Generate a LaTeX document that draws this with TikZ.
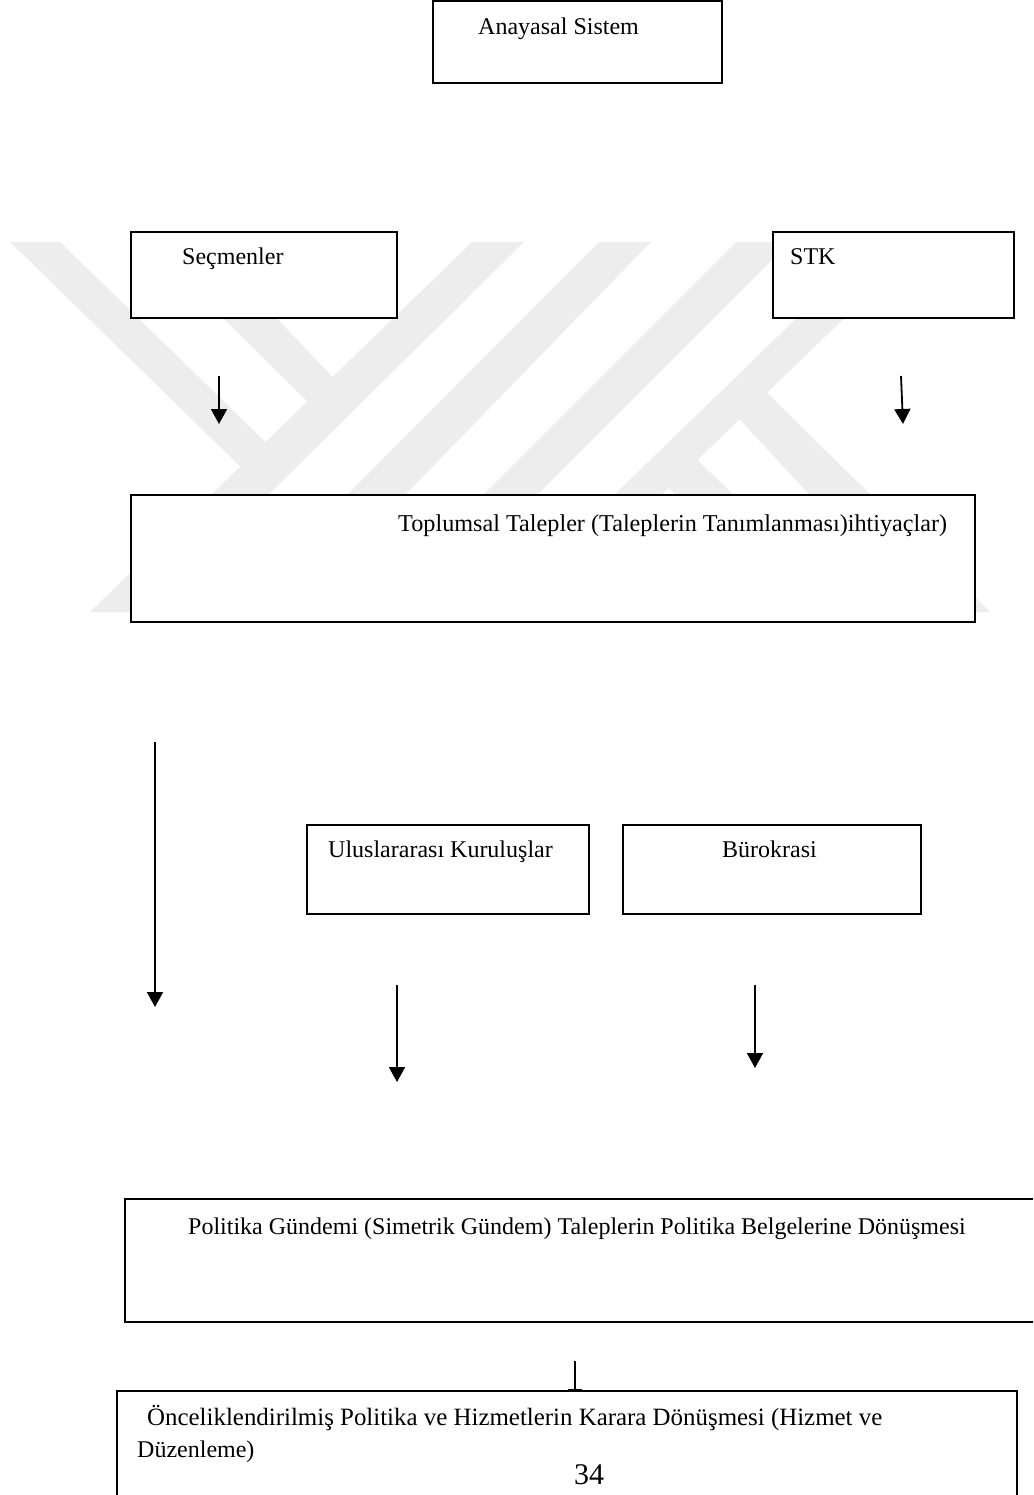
\documentclass[tikz,border=0pt]{standalone}
\usepackage{fontspec}
\setmainfont{Liberation Serif}
\usetikzlibrary{arrows.meta}
\definecolor{markgray}{HTML}{EDEDED}
\tikzset{
  boxnode/.style={draw=black,fill=white,line width=1.8pt,anchor=north west,inner sep=0pt,outer sep=0pt},
  boxtext/.style={anchor=base west,inner sep=0pt,font=\fontsize{24}{29}\selectfont},
  flowarrow/.style={line width=1.8pt,-{Triangle[length=15pt,width=16pt]}},
  markstrip/.style={fill=markgray,draw=none}
}
\begin{document}
\begin{tikzpicture}[x=1pt,y=-1pt]
\useasboundingbox (0,0) rectangle (1033,1495);
\clip (0,0) rectangle (1033,1495);
% background mark
\fill[markstrip](10,242)--(60,242)--(280,456)--(250,476)--cycle;
\fill[markstrip](472,242)--(524,242)--(150,612)--(90,612)--cycle;
\fill[markstrip](146,242)--(204,242)--(345,390)--(320,414)--cycle;
\fill[markstrip](599,242)--(651,242)--(368,533)--(309,533)--cycle;
\fill[markstrip](736,242)--(790,242)--(499,533)--(445,533)--cycle;
\fill[markstrip](875,242)--(923,242)--(622,533)--(575,533)--cycle;
\fill[markstrip](757,383)--(990,612)--(918,612)--(731,410)--cycle;
\fill[markstrip](687,450)--(773,533)--(717,533)--(658,478)--cycle;
% boxes
\node[boxnode,minimum width=289pt,minimum height=82pt](anayasa) at (433,1){};
\node[boxnode,minimum width=266pt,minimum height=86pt](secmen) at (131,232){};
\node[boxnode,minimum width=241pt,minimum height=86pt](stk) at (773,232){};
\node[boxnode,minimum width=844pt,minimum height=127pt](talep) at (131,495){};
\node[boxnode,minimum width=282pt,minimum height=89pt](kurulus) at (307,825){};
\node[boxnode,minimum width=298pt,minimum height=89pt](buro) at (623,825){};
\node[boxnode,minimum width=930pt,minimum height=123pt](gundem) at (125,1199){};
\node[boxnode,minimum width=900pt,minimum height=130pt](karar) at (117,1391){};
% texts
\node[boxtext](anayasatext) at (478,35){Anayasal Sistem};
\node[boxtext](secmentext) at (182,265){Seçmenler};
\node[boxtext](stktext) at (790,265){STK};
\node[boxtext,font=\fontsize{24.2}{29}\selectfont](taleptext) at (398,531){Toplumsal Talepler (Taleplerin Tanımlanması)ihtiyaçlar)};
\node[boxtext](kurulustext) at (328,857){Uluslararası Kuruluşlar};
\node[boxtext](burotext) at (722,857){Bürokrasi};
\node[boxtext](gundemtext) at (188,1234){Politika Gündemi (Simetrik Gündem) Taleplerin Politika Belgelerine Dönüşmesi};
\node[boxtext,font=\fontsize{24.9}{30}\selectfont](karartext) at (147,1425){Önceliklendirilmiş Politika ve Hizmetlerin Karara Dönüşmesi (Hizmet ve};
\node[boxtext](karartextb) at (137,1457){Düzenleme)};
\node[boxtext,font=\fontsize{30}{36}\selectfont](sayfa) at (574,1484){34};
% arrows
\coordinate(secmenout) at (219,376);
\coordinate(secmenin) at (219,424);
\coordinate(stkout) at (901,376);
\coordinate(stkin) at (903,424);
\coordinate(talepout) at (155,742);
\coordinate(talepin) at (155,1007);
\coordinate(kurulusout) at (397,985);
\coordinate(kurulusin) at (397,1082);
\coordinate(buroout) at (755,985);
\coordinate(buroin) at (755,1068);
\coordinate(gundemout) at (575,1361);
\coordinate(gundemin) at (575,1390);
\draw[flowarrow](secmenout)--(secmenin);
\draw[flowarrow](stkout)--(stkin);
\draw[flowarrow](talepout)--(talepin);
\draw[flowarrow](kurulusout)--(kurulusin);
\draw[flowarrow](buroout)--(buroin);
\draw[line width=1.8pt,-{Bar[width=14pt,line width=1.5pt]}](gundemout)--(gundemin);
\end{tikzpicture}
\end{document}
